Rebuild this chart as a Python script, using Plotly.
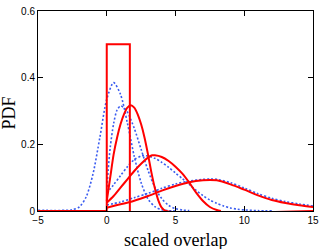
import plotly.graph_objects as go

# ---- data ----
# red: uniform box
box_x = [-5, 0, 0, 1.68, 1.68]
box_y = [0, 0, 0.5, 0.5, 0]

# red solid curves
red2_x = [0, 0.25, 0.5, 0.75, 1.0, 1.25, 1.5, 1.75, 2.0, 2.25, 2.5, 2.75, 3.0, 3.25, 3.5, 3.75, 4.0, 4.3, 15]
red2_y = [0.03, 0.10, 0.17, 0.22, 0.26, 0.29, 0.31, 0.317, 0.31, 0.29, 0.26, 0.22, 0.17, 0.115, 0.068, 0.032, 0.010, 0.0, 0.0]

red3_x = [0, 0.5, 1, 1.5, 2, 2.5, 3, 3.3, 3.5, 4, 4.5, 5, 5.5, 6, 6.5, 7, 7.5, 8, 8.3]
red3_y = [0.025, 0.045, 0.070, 0.095, 0.120, 0.142, 0.160, 0.167, 0.167, 0.162, 0.150, 0.133, 0.112, 0.085, 0.055, 0.030, 0.012, 0.003, 0.0]

red4_x = [0, 1, 2, 3, 4, 5, 6, 7, 7.5, 8, 9, 10, 11, 12, 13, 14, 15]
red4_y = [0.010, 0.020, 0.031, 0.045, 0.061, 0.075, 0.086, 0.092, 0.093, 0.092, 0.080, 0.064, 0.047, 0.033, 0.024, 0.017, 0.012]

# blue dotted curves
blue1_x = [-5, -3, -2.5, -2, -1.5, -1, -0.5, 0, 0.5, 1, 1.5, 2, 2.5, 3, 3.5, 4, 4.5, 5]
blue1_y = [0.002, 0.002, 0.004, 0.012, 0.042, 0.111, 0.221, 0.335, 0.385, 0.350, 0.264, 0.164, 0.085, 0.036, 0.013, 0.004, 0.001, 0.0]

blue2_x = [0, 0.1, 0.25, 0.5, 0.75, 1.0, 1.25, 1.5, 2.0, 2.5, 3.0, 3.5, 4.0, 4.5, 5.0, 5.5, 6.0]
blue2_y = [0.06, 0.12, 0.19, 0.262, 0.303, 0.315, 0.310, 0.297, 0.248, 0.185, 0.122, 0.071, 0.037, 0.017, 0.007, 0.003, 0.001]

blue3_x = [0, 0.5, 1, 1.5, 2, 2.5, 2.7, 3, 3.5, 4, 4.5, 5, 5.5, 6, 6.5, 7, 7.5, 8, 8.5, 9, 9.5, 10, 11, 12]
blue3_y = [0.054, 0.079, 0.106, 0.133, 0.154, 0.165, 0.166, 0.165, 0.158, 0.146, 0.131, 0.114, 0.097, 0.080, 0.062, 0.046, 0.033, 0.023, 0.015, 0.009, 0.0055, 0.0032, 0.001, 0.0003]

blue4_x = [0, 1, 2, 3, 4, 5, 6, 7, 7.5, 8, 9, 10, 11, 12, 13, 14, 15]
blue4_y = [0.018, 0.027, 0.040, 0.053, 0.068, 0.081, 0.090, 0.095, 0.096, 0.095, 0.085, 0.069, 0.052, 0.038, 0.028, 0.021, 0.015]

x_ticks = [-5, 0, 5, 10, 15]
y_ticks = [0, 0.2, 0.4, 0.6]
y_tick_text = ["0", "0.2", "0.4", "0.6"]

RED = "#ff0000"
BLUE = "#3a5cf0"

fig = go.Figure()
for xs, ys in [(blue1_x, blue1_y), (blue2_x, blue2_y), (blue3_x, blue3_y), (blue4_x, blue4_y)]:
    fig.add_trace(go.Scatter(x=xs, y=ys, mode="lines",
                             line=dict(color=BLUE, width=1.6, dash="2px,2px", shape="spline", smoothing=0.8),
                             hoverinfo="skip"))
fig.add_trace(go.Scatter(x=box_x, y=box_y, mode="lines",
                         line=dict(color=RED, width=2, shape="linear"), hoverinfo="skip"))
for xs, ys in [(red2_x, red2_y), (red3_x, red3_y), (red4_x, red4_y)]:
    fig.add_trace(go.Scatter(x=xs, y=ys, mode="lines",
                             line=dict(color=RED, width=2, shape="spline", smoothing=0.8),
                             hoverinfo="skip"))

fig.update_layout(
    width=327, height=249,
    margin=dict(l=38, r=14, t=11, b=38, autoexpand=False),
    paper_bgcolor="white", plot_bgcolor="white",
    showlegend=False,
    font=dict(family="Liberation Sans", size=10, color="black"),
    annotations=[
        dict(text="scaled overlap", xref="paper", yref="paper", x=0.5, y=-0.145,
             xanchor="center", yanchor="middle", showarrow=False,
             font=dict(family="Liberation Serif", size=18, color="black")),
        dict(text="PDF", xref="paper", yref="paper", x=-0.104, y=0.49, textangle=-90,
             xanchor="center", yanchor="middle", showarrow=False,
             font=dict(family="Liberation Serif", size=18, color="black")),
    ],
)
fig.update_xaxes(
    range=[-5, 15], tickvals=x_ticks, ticks="inside", ticklen=5, tickcolor="black",
    showline=True, linecolor="black", linewidth=1, mirror="ticks",
    showgrid=False, zeroline=False, automargin=False,
    tickfont=dict(family="Liberation Sans", size=10),
)
fig.update_yaxes(
    range=[0, 0.6], tickvals=y_ticks, ticktext=y_tick_text, ticks="inside", ticklen=5, tickcolor="black",
    showline=True, linecolor="black", linewidth=1, mirror="ticks",
    showgrid=False, zeroline=True, zerolinecolor="#888888", zerolinewidth=2, automargin=False,
    tickfont=dict(family="Liberation Sans", size=10),
)

fig.write_html(
    "out.html",
    config={"displayModeBar": False},
    post_script="document.body.style.margin='0';document.body.style.padding='0';",
)
